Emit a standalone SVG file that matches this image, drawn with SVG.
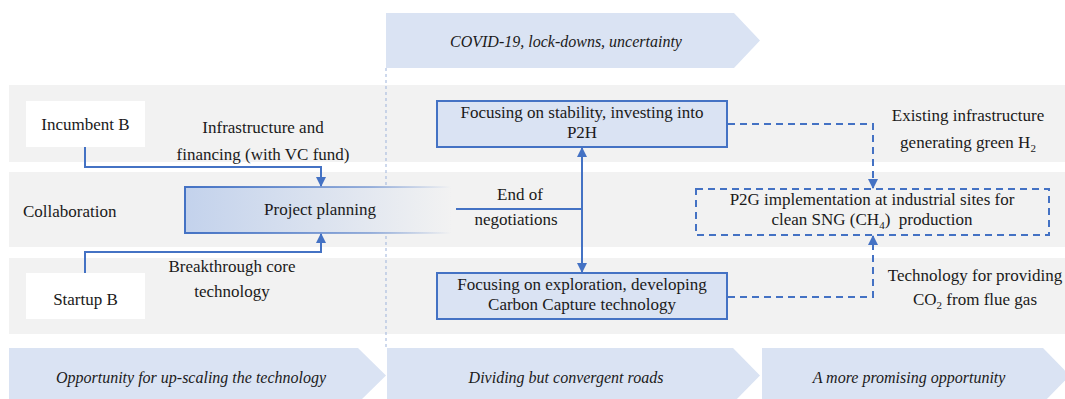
<svg xmlns="http://www.w3.org/2000/svg" width="1065" height="399" viewBox="0 0 1065 399">
<style>
.band{fill:#f2f2f2}
.chev{fill:#dae3f3}
.t{font-family:"Liberation Serif",serif;font-size:17px;fill:#1a1a1a}
.ti{font-family:"Liberation Serif",serif;font-size:16px;font-style:italic;fill:#1a1a1a}
.box{fill:#dae3f3;stroke:#4472c4;stroke-width:2}
.wbox{fill:#ffffff}
.c{fill:none;stroke:#4472c4;stroke-width:2}
.d{fill:none;stroke:#4472c4;stroke-width:2;stroke-dasharray:7 5}
</style>
<defs>
<marker id="ah" viewBox="0 0 10 10" refX="9" refY="5" markerWidth="5" markerHeight="5" orient="auto-start-reverse" markerUnits="strokeWidth">
<path d="M0,0 L10,5 L0,10 z" fill="#4472c4"/>
</marker>
<linearGradient id="pg" x1="185" y1="0" x2="451" y2="0" gradientUnits="userSpaceOnUse">
<stop offset="0" stop-color="#c3d2ec"/>
<stop offset="1" stop-color="#f2f2f2"/>
</linearGradient>
<linearGradient id="ps" x1="185" y1="0" x2="451" y2="0" gradientUnits="userSpaceOnUse">
<stop offset="0" stop-color="#4472c4" stop-opacity="1"/>
<stop offset="0.7" stop-color="#4472c4" stop-opacity="0.5"/>
<stop offset="1" stop-color="#4472c4" stop-opacity="0"/>
</linearGradient>
</defs>
<rect width="1065" height="399" fill="#ffffff"/>
<g id="bands">
<rect class="band" x="9" y="85" width="1056" height="77"/>
<rect class="band" x="9" y="172" width="1056" height="75"/>
<rect class="band" x="9" y="258" width="1056" height="76"/>
</g>
<g id="phase-top">
<path class="chev" d="M386,13 H734 L760,40.5 L734,68 H386 Z"/>
<text class="ti" x="566" y="47" text-anchor="middle">COVID-19, lock-downs, uncertainty</text>
</g>
<line x1="386" y1="68" x2="386" y2="348" stroke="#9db3db" stroke-width="1" stroke-dasharray="3 3"/>
<g id="phase-1">
<path class="chev" d="M9,348 H358 L386,375.5 L358,403 H9 Z"/>
<text class="ti" x="191" y="383" text-anchor="middle">Opportunity for up-scaling the technology</text>
</g>
<g id="phase-2">
<path class="chev" d="M387,348 H733 L760,375.5 L733,403 H387 Z"/>
<text class="ti" x="566" y="383" text-anchor="middle">Dividing but convergent roads</text>
</g>
<g id="phase-3">
<path class="chev" d="M762,348 H1043 L1070,375.5 L1043,403 H762 Z"/>
<text class="ti" x="909" y="383" text-anchor="middle">A more promising opportunity</text>
</g>
<g id="incumbent">
<rect class="wbox" x="26" y="101" width="119" height="46"/>
<text class="t" x="85.5" y="130" text-anchor="middle">Incumbent B</text>
</g>
<g id="startup">
<rect class="wbox" x="26" y="273" width="119" height="46"/>
<text class="t" x="85.5" y="305" text-anchor="middle">Startup B</text>
</g>
<g id="collaboration">
<text class="t" x="23" y="217">Collaboration</text>
</g>
<g id="project-planning">
<rect x="185" y="187" width="266" height="46" fill="url(#pg)" stroke="url(#ps)" stroke-width="2"/>
<text class="t" x="320" y="215" text-anchor="middle">Project planning</text>
</g>
<g id="p2h">
<rect class="box" x="437" y="101" width="290" height="46"/>
<text class="t" x="582" y="118" text-anchor="middle">Focusing on stability, investing into</text>
<text class="t" x="582" y="138" text-anchor="middle">P2H</text>
</g>
<g id="carbon-capture">
<rect class="box" x="437" y="273" width="290" height="46"/>
<text class="t" x="582" y="290" text-anchor="middle">Focusing on exploration, developing</text>
<text class="t" x="582" y="310" text-anchor="middle">Carbon Capture technology</text>
</g>
<g id="p2g">
<rect x="696" y="189" width="353" height="46" fill="none" stroke="#4472c4" stroke-width="2" stroke-dasharray="7 5"/>
<text class="t" x="872" y="205" text-anchor="middle">P2G implementation at industrial sites for</text>
<text class="t" x="872" y="225" text-anchor="middle">clean SNG (CH<tspan font-size="11" dy="4">4</tspan><tspan dy="-4">)&#160; production</tspan></text>
</g>
<g id="connectors">
<path class="c" d="M85,147 V167 H321 V186" marker-end="url(#ah)"/>
<path class="c" d="M85,273 V252 H321 V234" marker-end="url(#ah)"/>
<path class="c" d="M582,148 V272" marker-start="url(#ah)" marker-end="url(#ah)"/>
<path class="c" d="M456,209 H582"/>
<path class="d" d="M728,124 H873 V188" marker-end="url(#ah)"/>
<path class="d" d="M728,297 H873 V236" marker-end="url(#ah)"/>
</g>
<g id="labels">
<text class="t" x="263" y="133" text-anchor="middle">Infrastructure and</text>
<text class="t" x="263" y="160" text-anchor="middle">financing (with VC fund)</text>
<text class="t" x="232" y="272" text-anchor="middle">Breakthrough core</text>
<text class="t" x="232" y="297" text-anchor="middle">technology</text>
<text class="t" x="520" y="200" text-anchor="middle">End of</text>
<text class="t" x="516" y="225" text-anchor="middle">negotiations</text>
<text class="t" x="968" y="121" text-anchor="middle">Existing infrastructure</text>
<text class="t" x="968" y="148" text-anchor="middle">generating green H<tspan font-size="11" dy="4">2</tspan></text>
<text class="t" x="975" y="281" text-anchor="middle">Technology for providing</text>
<text class="t" x="975" y="305" text-anchor="middle">CO<tspan font-size="11" dy="4">2</tspan><tspan dy="-4"> from flue gas</tspan></text>
</g>
</svg>
